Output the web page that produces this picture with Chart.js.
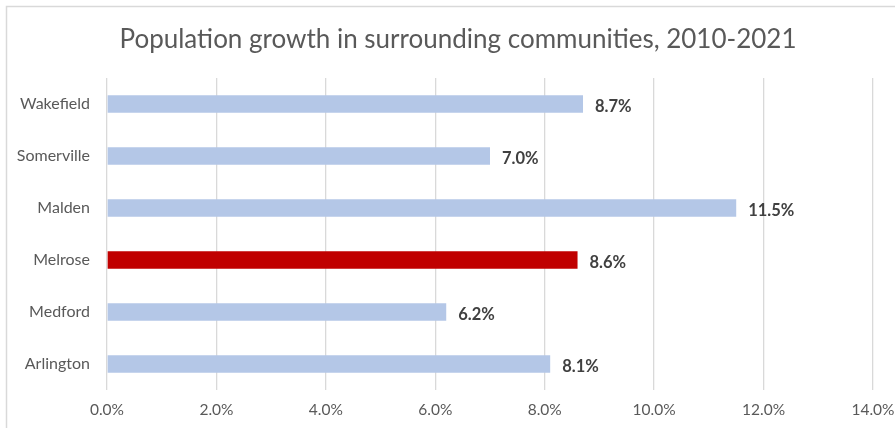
<!DOCTYPE html>
<html><head><meta charset="utf-8">
<script src="https://cdn.jsdelivr.net/npm/chart.js@4/dist/chart.umd.min.js"></script>
<style>html,body{margin:0;padding:0;background:#fff;overflow:hidden}#wrap{width:895px;height:428px;position:relative}</style>
</head><body><div id="wrap"><canvas id="c" width="895" height="428"></canvas></div>
<script>
const titleText = "Population growth in surrounding communities, 2010-2021";
const categories = ["Wakefield","Somerville","Malden","Melrose","Medford","Arlington"];
const growth = [8.7, 7.0, 11.5, 8.6, 6.2, 8.1];
const highlight = "Melrose";
const xTicks = [0,2,4,6,8,10,12,14];
const FONT = "Lato, 'Open Sans', sans-serif";

const frame = {
  id:'frame',
  beforeDraw(chart){
    const ctx = chart.ctx;
    ctx.save();
    ctx.fillStyle='#fff'; ctx.fillRect(0,0,chart.width,chart.height);
    ctx.strokeStyle='#d9d9d9'; ctx.lineWidth=1.5;
    ctx.beginPath(); ctx.moveTo(6.5,chart.height); ctx.lineTo(6.5,6.5); ctx.lineTo(chart.width,6.5); ctx.stroke();
    ctx.fillStyle='#595959'; ctx.font='26px '+FONT; ctx.textAlign='center'; ctx.textBaseline='middle';
    ctx.fillText(titleText, 458, 40);
    ctx.restore();
  },
  afterDatasetsDraw(chart){
    const ctx = chart.ctx; const meta = chart.getDatasetMeta(0);
    ctx.save(); ctx.fillStyle='#404040'; ctx.font='bold 16.5px '+FONT; ctx.textBaseline='middle'; ctx.textAlign='left';
    meta.data.forEach((bar,i)=>{ ctx.fillText(growth[i].toFixed(1)+'%', bar.x+12, bar.y+3); });
    ctx.restore();
  }
};

new Chart(document.getElementById('c'), {
  type:'bar',
  data:{ labels:categories, datasets:[{ data:growth,
    backgroundColor:categories.map(c=>c===highlight?'#c00000':'#b4c7e7'),
    barPercentage:0.68, categoryPercentage:0.5 }]},
  options:{
    indexAxis:'y', responsive:false, animation:false, devicePixelRatio:1,
    layout:{padding:{top:78,right:22,left:0,bottom:0}},
    plugins:{legend:{display:false}, title:{display:false}, tooltip:{enabled:false}},
    scales:{
      x:{ min:0, max:14, afterBuildTicks(s){ s.ticks = xTicks.map(v=>({value:v})); },
        afterFit(s){ s.height = 38; s.paddingLeft = 0; s.paddingRight = 0; },
        grid:{color:'#d9d9d9', drawTicks:false, lineWidth:1.3}, border:{display:false},
        ticks:{ color:'#595959', font:{family:FONT,size:15.5}, padding:11, callback:v=>v.toFixed(1)+'%'} },
      y:{ afterFit(s){ s.width = 107; }, grid:{display:false, drawTicks:false}, border:{display:false},
        ticks:{ color:'#595959', font:{family:FONT,size:16}, padding:17 } }
    }
  },
  plugins:[frame]
});
</script></body></html>
